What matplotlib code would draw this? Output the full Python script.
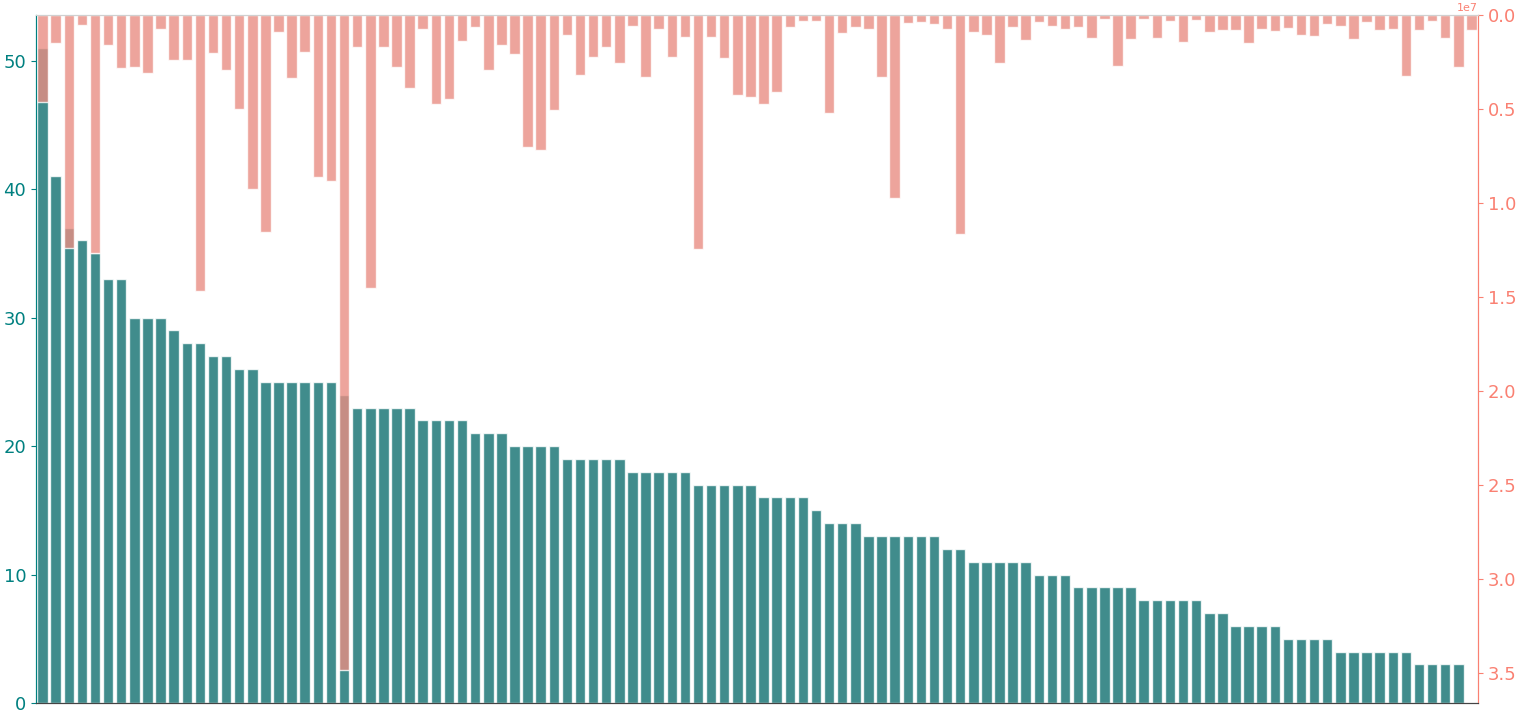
import matplotlib
matplotlib.use("Agg")
import matplotlib.pyplot as plt
import numpy as np

# left axis series (sorted counts), one fewer than the right series
counts = [51, 41, 37, 36, 35, 33, 33, 30, 30, 30,
          29, 28, 28, 27, 27, 26, 26, 25, 25, 25,
          25, 25, 25, 24, 23, 23, 23, 23, 23, 22,
          22, 22, 22, 21, 21, 21, 20, 20, 20, 20,
          19, 19, 19, 19, 19, 18, 18, 18, 18, 18,
          17, 17, 17, 17, 17, 16, 16, 16, 16, 15,
          14, 14, 14, 13, 13, 13, 13, 13, 13, 12,
          12, 11, 11, 11, 11, 11, 10, 10, 10, 9,
          9, 9, 9, 9, 8, 8, 8, 8, 8, 7,
          7, 6, 6, 6, 6, 5, 5, 5, 5, 4,
          4, 4, 4, 4, 4, 3, 3, 3, 3]

# right axis series (in units of 1e7), drawn hanging from the top
totals = [0.460, 0.150, 1.239, 0.053, 1.266, 0.159, 0.283, 0.278, 0.306, 0.073,
          0.241, 0.241, 1.466, 0.204, 0.290, 0.499, 0.924, 1.154, 0.089, 0.333,
          0.195, 0.860, 0.885, 3.484, 0.168, 1.453, 0.172, 0.274, 0.389, 0.073,
          0.473, 0.448, 0.140, 0.065, 0.294, 0.161, 0.209, 0.703, 0.719, 0.505,
          0.108, 0.319, 0.221, 0.170, 0.257, 0.058, 0.331, 0.073, 0.221, 0.117,
          1.244, 0.117, 0.228, 0.423, 0.435, 0.473, 0.411, 0.065, 0.030, 0.034,
          0.522, 0.097, 0.065, 0.074, 0.331, 0.972, 0.042, 0.039, 0.048, 0.074,
          1.163, 0.089, 0.104, 0.257, 0.062, 0.133, 0.039, 0.058, 0.073, 0.062,
          0.122, 0.023, 0.269, 0.129, 0.023, 0.120, 0.034, 0.145, 0.025, 0.092,
          0.081, 0.078, 0.149, 0.074, 0.087, 0.071, 0.104, 0.113, 0.050, 0.057,
          0.126, 0.039, 0.081, 0.073, 0.324, 0.078, 0.034, 0.124, 0.278, 0.078]

totals = np.array(totals) * 1e7
n = len(totals)

fig = plt.figure(figsize=(15.22, 7.14), dpi=100)
ax = fig.add_axes([36 / 1522, 11 / 714, 1442 / 1522, 688 / 714])

ax.bar(np.arange(len(counts)), counts, width=0.8, color="#107070", alpha=0.8,
       edgecolor="white", linewidth=1)
ax.set_xlim(-0.5, n - 0.5)
ax.set_xticks([])

ax2 = ax.twinx()
ax2.bar(np.arange(n), totals, width=0.8, color="#e98e83", alpha=0.8,
        edgecolor="white", linewidth=1)
ax2.set_ylim(0, totals.max() * 1.05)
ax2.invert_yaxis()
ax2.set_xlim(-0.5, n - 0.5)

ax.set_ylim(0, max(counts) * 1.05)

ax.tick_params(axis="y", colors="teal", labelsize=13)
ax2.tick_params(axis="y", colors="salmon", labelsize=13)
ax2.yaxis.get_offset_text().set_color("salmon")
ax2.yaxis.get_offset_text().set_fontsize(8)

for a in (ax, ax2):
    a.spines["left"].set_color("teal")
    a.spines["right"].set_color("salmon")
    a.spines["top"].set_color("#d0d0d0")
    a.spines["bottom"].set_color("#444444")

fig.savefig("out.png", dpi=100)
